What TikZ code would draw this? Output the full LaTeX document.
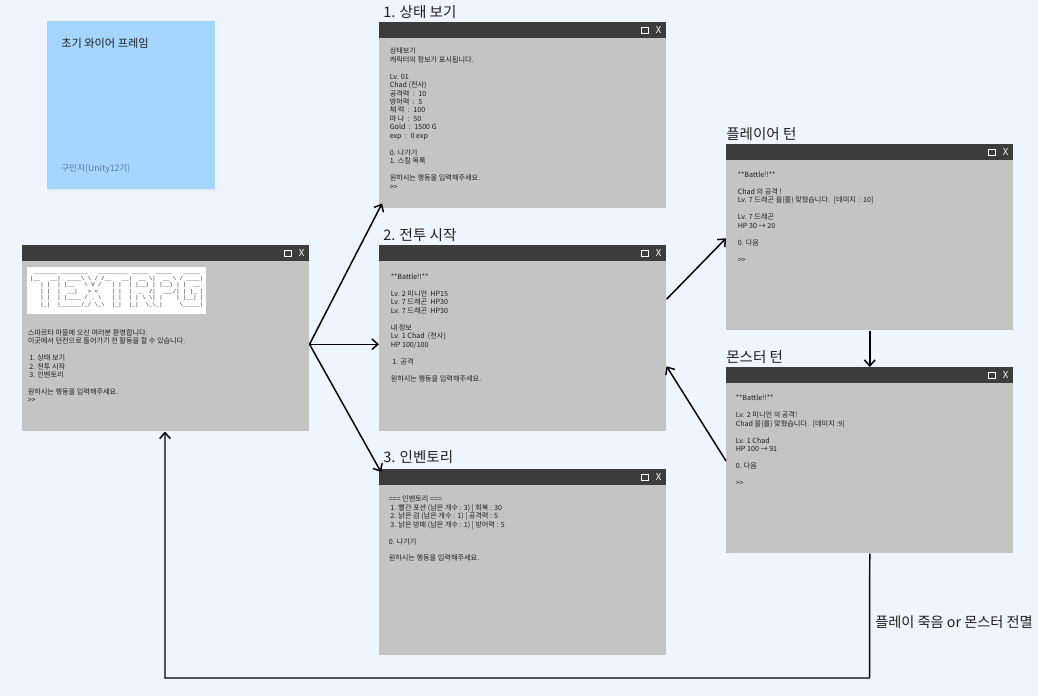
\documentclass[tikz,border=0pt]{standalone}
\usepackage{fontspec}
\setmainfont{Noto Sans CJK KR}
\newfontfamily\artfont{Liberation Mono}
\usetikzlibrary{arrows.meta, positioning, calc, shadows}
\definecolor{cPage}{RGB}{238, 245, 255}
\definecolor{cNote}{RGB}{165, 214, 255}
\definecolor{cWindow}{RGB}{196, 196, 196}
\definecolor{cBar}{RGB}{60, 60, 60}
\definecolor{tDark}{RGB}{30, 30, 30}
\definecolor{tNote}{RGB}{90, 120, 150}
\newcommand{\bs}{\textbackslash}

\begin{document}
\begin{tikzpicture}[
    x=0.75pt, y=-0.75pt,
    >={Straight Barb[length=4.5pt,width=8pt]},
    windowbody/.style={
        fill=cWindow,
        minimum width=215.25pt,
        minimum height=139.5pt,
        inner sep=0pt,
        anchor=north west
    },
    windowbar/.style={
        fill=cBar,
        minimum width=215.25pt,
        minimum height=12pt,
        inner sep=0pt,
        anchor=north
    },
    maxicon/.style={draw=white, line width=0.5pt, minimum size=5pt, inner sep=0pt},
    closeicon/.style={text=white, inner sep=0pt, font=\fontsize{7.2}{7.2}\selectfont},
    windowtext/.style={
        anchor=north west,
        align=left,
        inner sep=0pt,
        text=tDark,
        font=\fontsize{5.35}{6.35}\selectfont
    },
    heading/.style={anchor=south west, inner sep=0pt, text=tDark, font=\fontsize{10.9}{12}\selectfont},
    arrow/.style={->, line width=1.1pt, color=black}
]

\fill[cPage] (0,0) rectangle (1038,696);
\useasboundingbox (0,0) rectangle (1038,696);

% Note
\node[fill=cNote, minimum size=126pt, inner sep=0pt, anchor=north west,
    drop shadow={opacity=0.08, shadow xshift=0pt, shadow yshift=-1.5pt}] (note) at (47,21) {};
\node[anchor=west, inner sep=0pt, text=tDark, font=\fontsize{8.4}{10}\selectfont] (noteTitle) at (61,43) {초기 와이어 프레임};
\node[anchor=west, inner sep=0pt, text=tNote, font=\fontsize{6.5}{8}\selectfont] (noteName) at (61,169) {구민지(Unity12기)};

% Main window
\node[windowbody] (mainW) at (22,245) {};
\node[windowbar] (mainBar) at (mainW.north) {};
\node[maxicon] (mainMax) at ([xshift=-16.5pt]mainBar.east) {};
\node[closeicon] (mainClose) at ([xshift=-6pt]mainBar.east) {X};
\node[fill=white, minimum width=134.25pt, minimum height=35.25pt, inner sep=0pt, anchor=north west] (logo) at (27,267) {};
\node[inner sep=0pt, align=left, text=black!85, font=\artfont\fontsize{4.25}{4.9}\selectfont] (logoText) at (logo.center) {%
~\_\_\_\_\_\_\_~\_\_\_\_\_\_\_\_~~~\_\_\_\_\_\_\_\_\_~\_\_\_\_\_~~\_\_\_\_\_~~~\_\_\_\_\_~\\
|\_\_~~~\_\_|~~\_\_\_\_\bs~\bs~/~/\_\_~~~\_\_|~~\_\_~\bs|~~\_\_~\bs~/~\_\_\_\_|\\
~~~|~|~~|~|\_\_~~~\bs~V~/~~~|~|~~|~|\_\_)~|~|\_\_)~|~|~~\_\_~\\
~~~|~|~~|~~\_\_|~~~>~<~~~~|~|~~|~~\_~~/|~~\_\_\_/|~|~|\_~|\\
~~~|~|~~|~|\_\_\_\_~/~.~\bs~~~|~|~~|~|~\bs~\bs|~|~~~~|~|\_\_|~|\\
~~~|\_|~~|\_\_\_\_\_\_/\_/~\bs\_\bs~~|\_|~~|\_|~~\bs\_\bs\_|~~~~~\bs\_\_\_\_\_|};
\node[windowtext] (mainText) at (27.5,329) {
스파르타 마을에 오신 여러분 환영합니다.\\
이곳에서 던전으로 들어가기 전 활동을 할 수 있습니다.\\
~\\
~1. 상태 보기\\
~2. 전투 시작\\
~3. 인벤토리\\
~\\
원하시는 행동을 입력해주세요.\\
>{}>};

% Status window
\node[windowbody] (statusW) at (379,22) {};
\node[windowbar] (statusBar) at (statusW.north) {};
\node[maxicon] (statusMax) at ([xshift=-16.5pt]statusBar.east) {};
\node[closeicon] (statusClose) at ([xshift=-6pt]statusBar.east) {X};
\node[heading] (statusHead) at (383,19) {1. 상태 보기};
\node[windowtext] (statusText) at (389.5,47.5) {
상태보기\\
캐릭터의 정보가 표시됩니다.\\
~\\
Lv. 01\\
Chad (전사)\\
공격력 ~:~ 10\\
방어력 ~:~ 5\\
체 력 ~:~ 100\\
마 나 ~:~ 50\\
Gold ~:~ 1500 G\\
exp ~:~ 0 exp\\
~\\
0. 나가기\\
1. 스킬 목록\\
~\\
원하시는 행동을 입력해주세요.\\
>{}>};

% Battle window
\node[windowbody] (battleW) at (379,245) {};
\node[windowbar] (battleBar) at (battleW.north) {};
\node[maxicon] (battleMax) at ([xshift=-16.5pt]battleBar.east) {};
\node[closeicon] (battleClose) at ([xshift=-6pt]battleBar.east) {X};
\node[heading] (battleHead) at (383,242) {2. 전투 시작};
\node[windowtext] (battleText) at (390.5,273.5) {
**Battle!!**\\
~\\
Lv. 2 미니언 ~HP15\\
Lv. 7 드래곤 ~HP30\\
Lv. 7 드래곤 ~HP30\\
~\\
내 정보\\
Lv. 1 Chad ~(전사)\\
HP 100/100\\
~\\
~1. 공격\\
~\\
원하시는 행동을 입력해주세요.};

% Inventory window
\node[windowbody] (inventoryW) at (379,469) {};
\node[windowbar] (inventoryBar) at (inventoryW.north) {};
\node[maxicon] (inventoryMax) at ([xshift=-16.5pt]inventoryBar.east) {};
\node[closeicon] (inventoryClose) at ([xshift=-6pt]inventoryBar.east) {X};
\node[heading] (inventoryHead) at (383,464) {3. 인벤토리};
\node[windowtext] (inventoryText) at (388.5,495.5) {
=== 인벤토리 ===\\
~1. 빨간 포션 (남은 개수 : 3) | 회복 : 30\\
~2. 낡은 검 (남은 개수 : 1) | 공격력 : 5\\
~3. 낡은 방패 (남은 개수 : 1) | 방어력 : 5\\
~\\
0. 나가기\\
~\\
원하시는 행동을 입력해주세요.};

% Player turn window
\node[windowbody] (playerW) at (726,144) {};
\node[windowbar] (playerBar) at (playerW.north) {};
\node[maxicon] (playerMax) at ([xshift=-16.5pt]playerBar.east) {};
\node[closeicon] (playerClose) at ([xshift=-6pt]playerBar.east) {X};
\node[heading] (playerHead) at (726,141) {플레이어 턴};
\node[windowtext] (playerText) at (737.5,171.5) {
**Battle!!**\\
~\\
Chad 의 공격 !\\
Lv. 7 드래곤 을(를) 맞혔습니다. ~[데미지 ~: 10]\\
~\\
Lv. 7 드래곤\\
HP 30 → 20\\
~\\
0. 다음\\
~\\
>{}>};

% Monster turn window
\node[windowbody] (monsterW) at (726,367) {};
\node[windowbar] (monsterBar) at (monsterW.north) {};
\node[maxicon] (monsterMax) at ([xshift=-16.5pt]monsterBar.east) {};
\node[closeicon] (monsterClose) at ([xshift=-6pt]monsterBar.east) {X};
\node[heading] (monsterHead) at (726,364) {몬스터 턴};
\node[windowtext] (monsterText) at (735.5,395) {
**Battle!!**\\
~\\
Lv. 2 미니언 의 공격!\\
Chad 을(를) 맞혔습니다. ~[데미지 :9]\\
~\\
Lv. 1 Chad\\
HP 100 → 91\\
~\\
0. 다음\\
~\\
>{}>};

\coordinate (loopRight) at (869.5,678);
\coordinate (loopLeft) at (165,678);
\node[anchor=west, inner sep=0pt, text=tDark, font=\fontsize{10.65}{12}\selectfont] (loopLabel) at (875,622) {플레이 죽음 or 몬스터 전멸};

\draw[arrow] ([yshift=-4.5pt]mainW.east) -- ([shift={(3,-5)}]statusW.south west);
\draw[arrow] ([yshift=-4.5pt]mainW.east) -- ([yshift=-4.5pt]battleW.west);
\draw[arrow] ([yshift=-4.5pt]mainW.east) -- ([shift={(2,3)}]inventoryW.north west);
\draw[arrow] ([yshift=29.25pt]battleW.east) -- ([yshift=-0.75pt]playerW.west);
\draw[arrow] (playerW.south) -- (playerW.south |- monsterW.north);
\draw[arrow] ([yshift=-0.5pt]monsterW.west) -- ([yshift=-21pt]battleW.east);
\draw[arrow] (monsterW.south) -- (loopRight) -- (loopLeft) -- (loopLeft |- mainW.south);

\end{tikzpicture}
\end{document}
